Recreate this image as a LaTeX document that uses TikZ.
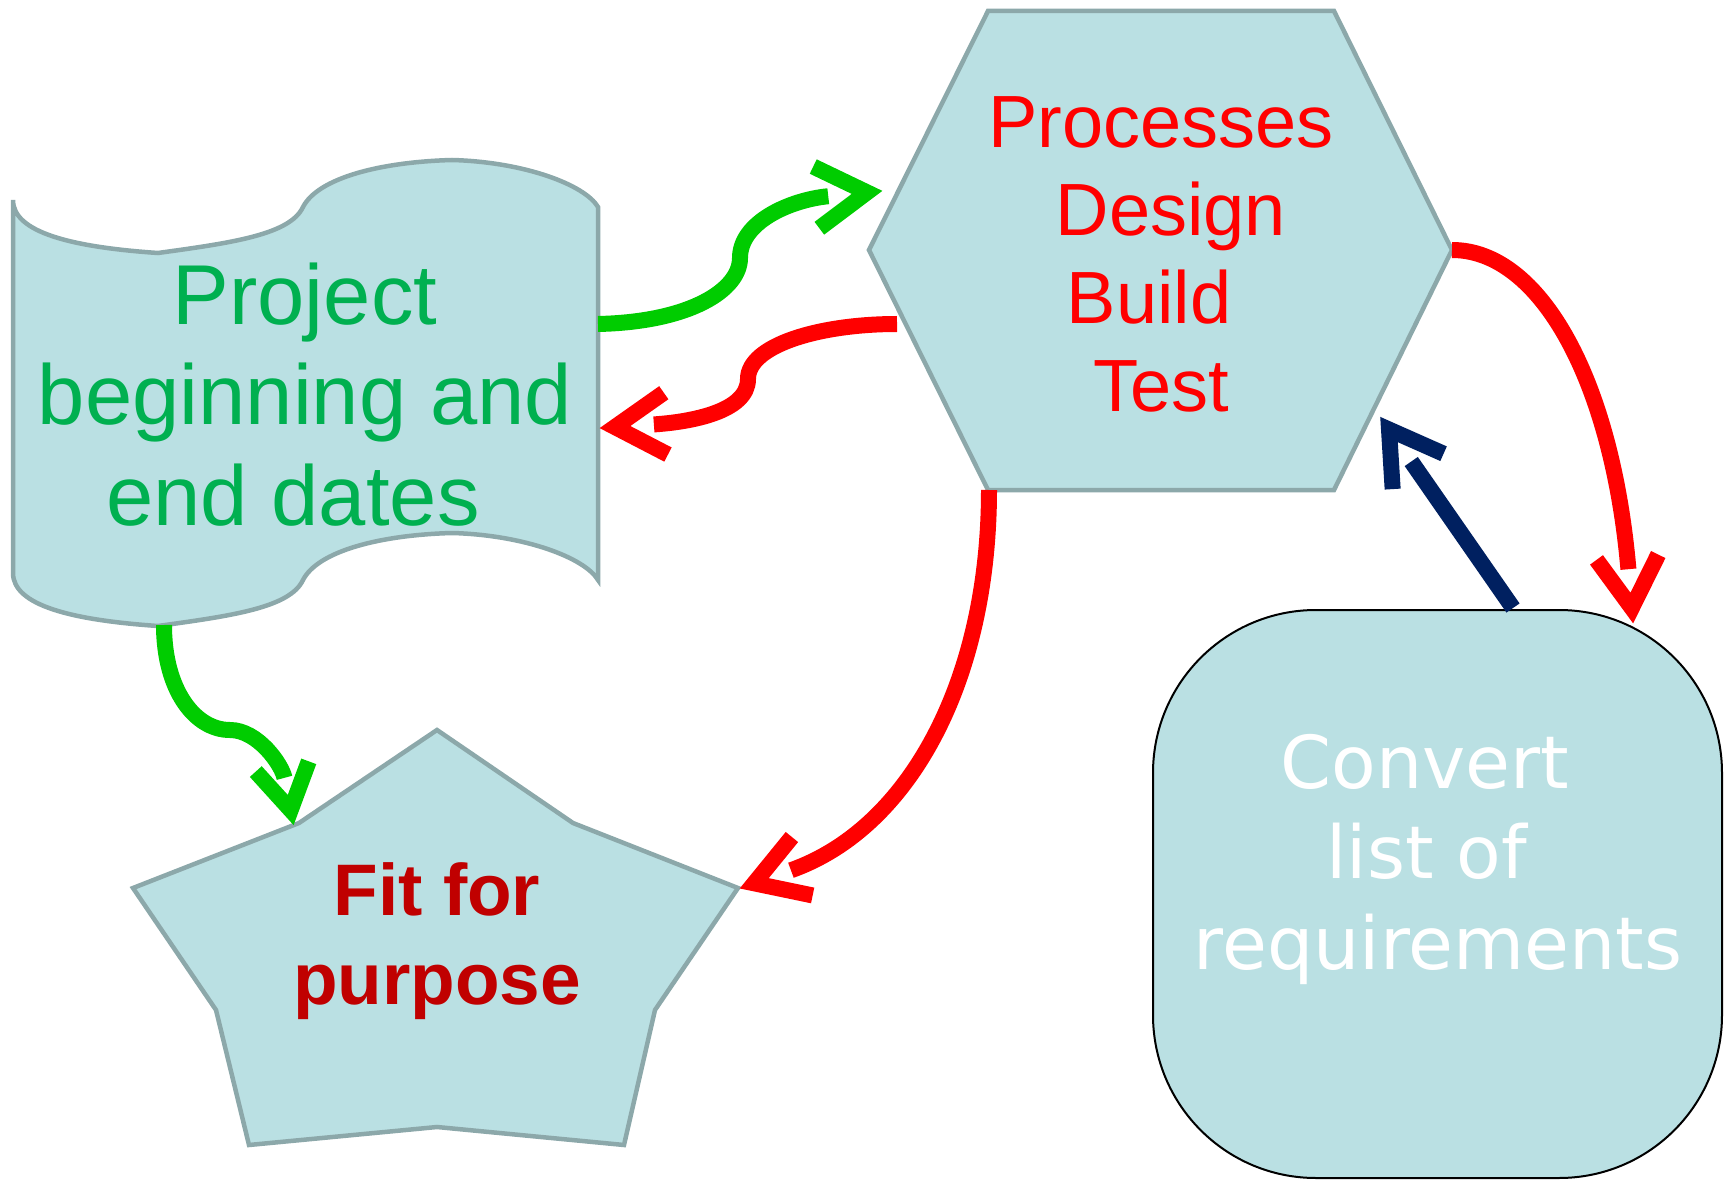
\documentclass[tikz,border=0pt]{standalone}
\usepackage{fontspec}
\setmainfont{Liberation Sans}
\newfontfamily\dejavu{DejaVu Sans}
\usetikzlibrary{decorations.markings}
\definecolor{shapefill}{RGB}{186,224,227}
\definecolor{shapeline}{RGB}{140,168,170}
\definecolor{lgreen}{RGB}{0,204,0}
\definecolor{tgreen}{RGB}{0,176,80}
\definecolor{dred}{RGB}{192,0,0}
\definecolor{navy}{RGB}{0,32,96}
\tikzset{
  shp/.style={fill=shapefill, draw=shapeline, line width=4.5pt, line join=miter},
  rrect/.style={fill=shapefill, draw=black, line width=2pt},
  conn/.style 2 args={draw=#1, line width=16pt, line cap=butt, shorten >=53pt,
    postaction={decorate},
    decoration={markings, mark=at position 0.9999 with {\draw[draw=#1, line width=16pt, line cap=butt, line join=miter, shorten >=0pt, shorten <=0pt, scale=#2] (-65,31) -- (-14,0) -- (-65,-31);}}},
  txt/.style={align=center, inner sep=0pt},
}
\begin{document}
\begin{tikzpicture}[x=1pt, y=-1pt]
\useasboundingbox (0,0) rectangle (1733,1182);
% shapes
\draw[shp] (988,11) -- (1334,11) -- (1452,250) -- (1334,490) -- (988,490) -- (869,250) -- cycle;
\draw[shp] (13,200) .. controls (13,232) and (70,247) .. (158,253)
  .. controls (230,243) and (290,235) .. (303,207)
  .. controls (318,178) and (380,162) .. (452,160)
  .. controls (525,162) and (585,185) .. (598,207)
  -- (598,580)
  .. controls (585,558) and (525,535) .. (452,533)
  .. controls (380,535) and (318,551) .. (303,580)
  .. controls (290,608) and (230,616) .. (158,626)
  .. controls (70,620) and (13,605) .. (13,573) -- cycle;
\draw[shp] (437,730) -- (573,823) -- (738,888) -- (655,1010) -- (624,1145) -- (437,1127) -- (249,1145) -- (216,1010) -- (133,888) -- (299,823) -- cycle;
\draw[rrect, rounded corners=163pt] (1153,610) rectangle (1722,1178);
% texts
\node[txt, text=red, font=\fontsize{74}{88}\selectfont] (hex) at (1161,261.4)
  {\strut Processes\\\rule{20pt}{0pt}\strut Design\\\strut Build\rule{24pt}{0pt}\\\strut Test};
\node[txt, text=tgreen, font=\fontsize{85}{100.5}\selectfont] (proj) at (305,404.4)
  {\strut Project\\\strut beginning and\\\strut end dates\rule{24pt}{0pt}};
\node[txt, text=dred, font=\bfseries\fontsize{73}{89}\selectfont] (fit) at (437,941.7)
  {\strut Fit for\\\strut purpose};
\node[txt, text=white, font=\dejavu\fontsize{73}{90.5}\selectfont] (conv) at (1438,860.4)
  {\strut Convert\rule{26pt}{0pt}\\\strut list of\rule{22pt}{0pt}\\\strut requirements};
% connection points
\coordinate (projE) at (598,324);
\coordinate (projIn) at (601,428);
\coordinate (projS) at (164,625);
\coordinate (hexIn) at (881,191);
\coordinate (hexW) at (897,324);
\coordinate (hexE) at (1452,250);
\coordinate (hexS) at (989,490);
\coordinate (hexSE) at (1381,418);
\coordinate (convIn) at (1633,622);
\coordinate (convN) at (1513,608);
\coordinate (fitIn) at (741,888);
\coordinate (fitNW) at (293,822);
% connectors
\draw[conn={lgreen}{1}] (projE) .. controls (690,322) and (740,290) .. (740,258)
  .. controls (740,222) and (790,200) .. (hexIn);
\draw[conn={red}{1}] (hexW) .. controls (820,324) and (748,345) .. (748,379)
  .. controls (748,412) and (690,422) .. (projIn);
\draw[conn={red}{1}] (hexE) .. controls (1540,250) and (1612,380) .. (convIn);
\draw[conn={red}{1}] (hexS) .. controls (989,680) and (910,828) .. (fitIn);
\draw[conn={lgreen}{0.87}, shorten >=45pt] (projS) .. controls (164,690) and (195,730) .. (230,730)
  .. controls (258,730) and (282,765) .. (fitNW);
\draw[conn={navy}{1}] (convN) -- (hexSE);
\end{tikzpicture}
\end{document}
